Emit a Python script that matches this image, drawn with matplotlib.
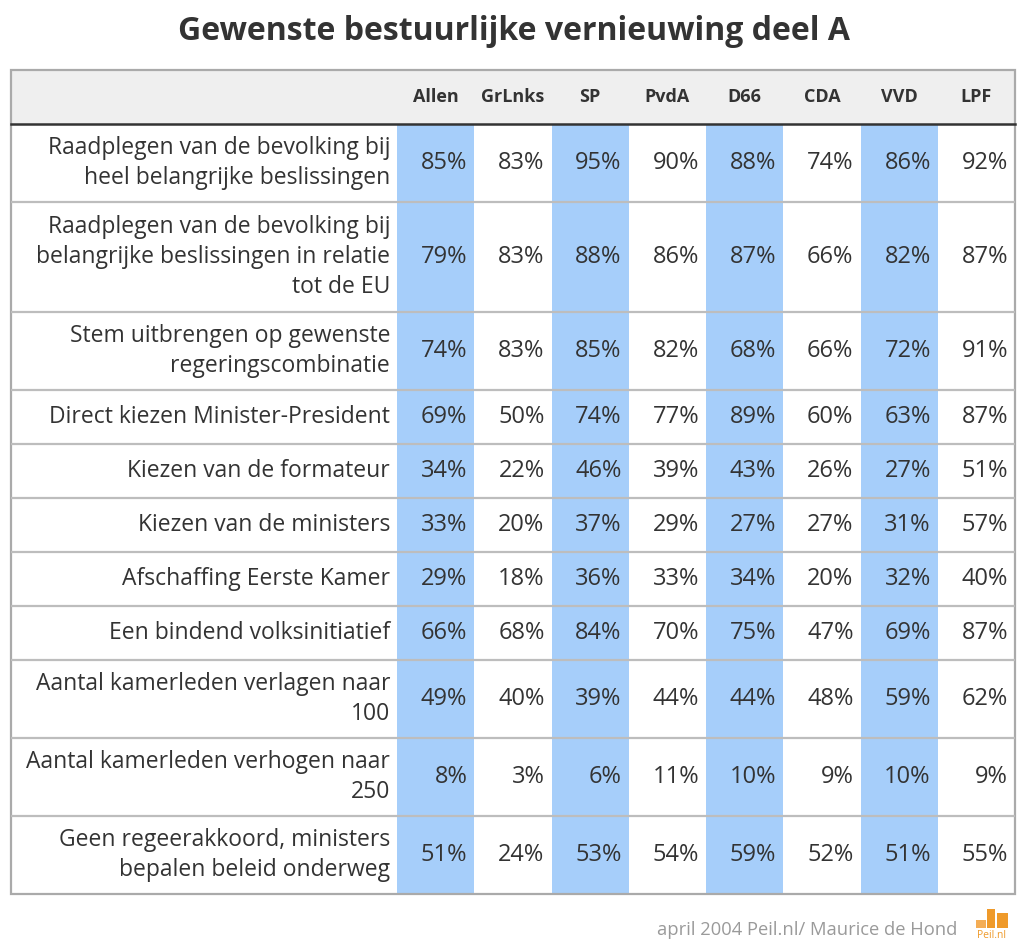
import matplotlib.pyplot as plt
from matplotlib.patches import Rectangle

# ==========================
# DATA
# ==========================
title = "Gewenste bestuurlijke vernieuwing deel A"
parties = ["Allen", "GrLnks", "SP", "PvdA", "D66", "CDA", "VVD", "LPF"]
questions = [
    "Raadplegen van de bevolking bij\nheel belangrijke beslissingen",
    "Raadplegen van de bevolking bij\nbelangrijke beslissingen in relatie\ntot de EU",
    "Stem uitbrengen op gewenste\nregeringscombinatie",
    "Direct kiezen Minister-President",
    "Kiezen van de formateur",
    "Kiezen van de ministers",
    "Afschaffing Eerste Kamer",
    "Een bindend volksinitiatief",
    "Aantal kamerleden verlagen naar\n100",
    "Aantal kamerleden verhogen naar\n250",
    "Geen regeerakkoord, ministers\nbepalen beleid onderweg",
]
allen = [85, 79, 74, 69, 34, 33, 29, 66, 49, 8, 51]
grlnks = [83, 83, 83, 50, 22, 20, 18, 68, 40, 3, 24]
sp = [95, 88, 85, 74, 46, 37, 36, 84, 39, 6, 53]
pvda = [90, 86, 82, 77, 39, 29, 33, 70, 44, 11, 54]
d66 = [88, 87, 68, 89, 43, 27, 34, 75, 44, 10, 59]
cda = [74, 66, 66, 60, 26, 27, 20, 47, 48, 9, 52]
vvd = [86, 82, 72, 63, 27, 31, 32, 69, 59, 10, 51]
lpf = [92, 87, 91, 87, 51, 57, 40, 87, 62, 9, 55]
columns = [allen, grlnks, sp, pvda, d66, cda, vvd, lpf]
source = "april 2004 Peil.nl/ Maurice de Hond"

# ==========================
# STYLE / LAYOUT (pixels)
# ==========================
W, H = 1028, 950
plt.rcParams["font.family"] = ["Open Sans", "DejaVu Sans"]

TEXT = "#333333"
BLUE = "#a6cefa"
HEAD_BG = "#efefef"
GRID = "#bdbdbd"
BORDER = "#aaaaaa"

left, right = 11, 1015
top, head_h = 70, 54
label_right = 397
col_w = (right - label_right) / len(parties)
row_h = {1: 54, 2: 78, 3: 110}

fig = plt.figure(figsize=(W / 100, H / 100), dpi=100)
ax = fig.add_axes([0, 0, 1, 1])
ax.set_xlim(0, W)
ax.set_ylim(H, 0)
ax.axis("off")

ax.text(W / 2, 31, title, ha="center", va="center", fontsize=23,
        fontweight="bold", color=TEXT)

# row positions
ys = [top + head_h]
for q in questions:
    ys.append(ys[-1] + row_h[q.count("\n") + 1])
bottom = ys[-1]

# header
ax.add_patch(Rectangle((left, top), right - left, head_h, color=HEAD_BG, lw=0))
for j, p in enumerate(parties):
    cx = label_right + col_w * (j + 0.5)
    ax.text(cx, top + head_h / 2, p, ha="center", va="center", fontsize=13,
            fontweight="bold", color=TEXT)

# shaded columns
for j in range(0, len(parties), 2):
    ax.add_patch(Rectangle((label_right + col_w * j, ys[0]), col_w,
                           bottom - ys[0], color=BLUE, lw=0))

# rows
for i, q in enumerate(questions):
    y0, y1 = ys[i], ys[i + 1]
    cy = (y0 + y1) / 2
    ax.text(label_right - 7, cy, q, ha="right", va="center", fontsize=16.5,
            color=TEXT, linespacing=1.31)
    for j, col in enumerate(columns):
        x = label_right + col_w * (j + 1) - 7
        ax.text(x, cy, f"{col[i]}%", ha="right", va="center", fontsize=17,
                color=TEXT)
    if i > 0:
        ax.plot([left, right], [y0, y0], color=GRID, lw=1.6,
                solid_capstyle="butt")

ax.plot([left, right], [ys[0], ys[0]], color="#333333", lw=1.8)
ax.add_patch(Rectangle((left, top), right - left, bottom - top, fill=False,
                       ec=BORDER, lw=1.6))

# footer
ax.text(957, 930, source, ha="right", va="center", fontsize=13.2,
        color="#9a9a9a")
logo = [(976, 920, 10, 8, "#f4ad55"), (987, 909, 8, 19, "#ef9a2a"),
        (997, 913, 11, 15, "#ef9a2a")]
for x, y, w, h, c in logo:
    ax.add_patch(Rectangle((x, y), w, h, color=c, lw=0))
ax.text(992, 936, "Peil.nl", ha="center", va="center", fontsize=7.5,
        color="#ef9a2a")

fig.savefig("out.png", dpi=100)
